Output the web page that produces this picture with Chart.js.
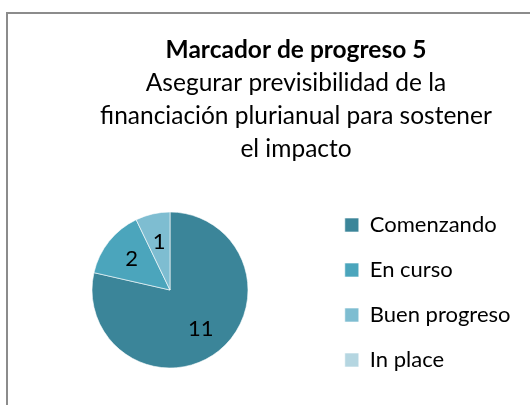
<!DOCTYPE html>
<html lang="es">
<head>
<meta charset="UTF-8">
<title>Marcador de progreso 5</title>
<script src="https://cdn.jsdelivr.net/npm/chart.js"></script>
<style>
  html, body { margin: 0; padding: 0; background: #fff; overflow: hidden; }
  #wrap { position: relative; width: 530px; height: 405px; }
  #frame { position: absolute; left: 6px; top: 12px; width: 600px; height: 500px; border: 2px solid #8c8c8c; pointer-events: none; }
  canvas { position: absolute; left: 0; top: 0; }
</style>
</head>
<body>
<div id="wrap">
  <canvas id="pie" width="530" height="405"></canvas>
  <div id="frame"></div>
</div>
<script>
// datos
const categories = ['Comenzando', 'En curso', 'Buen progreso', 'In place'];
const counts = [11, 2, 1, 0];
const sliceColors = ['#3b8599', '#4ba5bc', '#7ebdd1', '#b5d6e1'];
const titleText = 'Marcador de progreso 5';
const subtitleLines = ['Asegurar previsibilidad de la', 'financiación plurianual para sostener', 'el impacto'];

const fontFamily = 'Lato';
const pieCenterX = 170;

// números dentro de cada porción
const sliceLabels = {
  id: 'sliceLabels',
  afterDatasetsDraw(chart) {
    const ctx = chart.ctx;
    const meta = chart.getDatasetMeta(0);
    const values = chart.data.datasets[0].data;
    ctx.save();
    ctx.font = '22px ' + fontFamily;
    ctx.fillStyle = '#000';
    ctx.textAlign = 'center';
    ctx.textBaseline = 'middle';
    meta.data.forEach((arc, i) => {
      if (!values[i]) return;
      const p = arc.getProps(['x', 'y', 'startAngle', 'endAngle', 'outerRadius'], true);
      const mid = (p.startAngle + p.endAngle) / 2;
      const r = p.outerRadius * 0.63;
      ctx.fillText(String(values[i]), p.x + Math.cos(mid) * r, p.y + Math.sin(mid) * r);
    });
    ctx.restore();
  }
};

// el pastel queda a la izquierda, el título centrado sobre todo el gráfico
const pieArea = {
  id: 'pieArea',
  afterLayout(chart) {
    const a = chart.chartArea;
    a.left = 2 * pieCenterX - a.right;
    a.width = a.right - a.left;
  }
};

new Chart(document.getElementById('pie'), {
  type: 'pie',
  data: {
    labels: categories,
    datasets: [{
      data: counts,
      backgroundColor: sliceColors,
      borderColor: 'rgba(255,255,255,0.6)',
      borderWidth: 1,
      radius: 78
    }]
  },
  options: {
    responsive: false,
    animation: false,
    layout: { padding: { left: 71.5, right: 9.5, top: 0, bottom: 11 } },
    plugins: {
      title: {
        display: true,
        text: titleText,
        color: '#000',
        font: { family: fontFamily, size: 24.5, weight: 'bold', lineHeight: '33px' },
        padding: { top: 34, bottom: 0 }
      },
      subtitle: {
        display: true,
        text: subtitleLines,
        color: '#000',
        font: { family: fontFamily, size: 24.5, weight: 'normal', lineHeight: '33px' },
        padding: { top: 0, bottom: 20 }
      },
      legend: {
        position: 'right',
        align: 'end',
        labels: {
          color: '#000',
          font: { family: fontFamily, size: 22 },
          boxWidth: 14,
          boxHeight: 14,
          padding: 23
        }
      },
      tooltip: { enabled: false }
    }
  },
  plugins: [sliceLabels, pieArea]
});
</script>
</body>
</html>
